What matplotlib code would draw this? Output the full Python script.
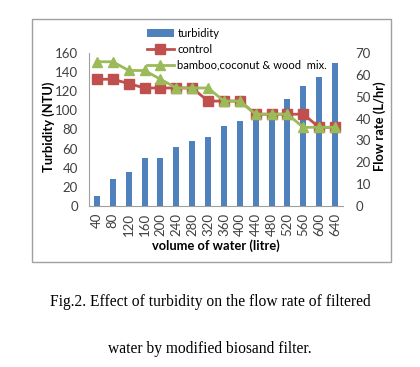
import matplotlib.pyplot as plt
import numpy as np
from matplotlib.patches import Rectangle

volume = ['40', '80', '120', '160', '200', '240', '280', '320',
          '360', '400', '440', '480', '520', '560', '600', '640']
turbidity = [10, 28, 36, 50, 50.5, 62, 68, 72, 84, 89, 96, 97, 112, 125, 135, 150]
control = [58, 58, 56, 54, 54, 54, 54, 48, 48, 48, 42, 42, 42, 42, 36, 36]
bamboo = [66, 66, 62, 62, 58, 54, 54, 54, 48, 48, 42, 42, 42, 36, 36, 36]

font = 'Lato'
tick_col = '#404040'

fig = plt.figure(figsize=(4.2, 3.67), dpi=100)
fig.patches.append(Rectangle((32 / 420, 1 - 262 / 367), 359 / 420, 243 / 367,
                             transform=fig.transFigure, fill=False,
                             edgecolor='#a0a0a0', linewidth=1.0))

ax = fig.add_axes([89 / 420, 1 - 206 / 367, 254 / 420, 153 / 367])
x = np.arange(len(volume))
bars = ax.bar(x, turbidity, width=0.38, color='#4f81bd', label='turbidity', zorder=1)
ax.set_ylim(0, 160)
ax.set_yticks(range(0, 161, 20))
ax.set_xlim(-0.5, len(volume) - 0.5)
ax.set_xticks(x)
ax.set_xticklabels(volume, rotation=90)
ax.tick_params(axis='y', length=0, labelsize=9.5, labelcolor=tick_col, pad=8)
ax.tick_params(axis='x', length=0, labelsize=9.5, labelcolor=tick_col, pad=5)
for lbl in ax.get_xticklabels() + ax.get_yticklabels():
    lbl.set_family(font)
ax.set_xlabel('volume of water (litre)', fontsize=9.3, fontweight='bold',
              family=font, labelpad=2.5)
ax.set_ylabel('Turbidity (NTU)', fontsize=9.3, fontweight='bold', family=font)
ax.yaxis.set_label_coords(-0.135, 0.52)
for s in ['top', 'right']:
    ax.spines[s].set_visible(False)
for s in ['left', 'bottom']:
    ax.spines[s].set_color('#a0a0a0')
    ax.spines[s].set_linewidth(0.8)

ax2 = ax.twinx()
l1, = ax2.plot(x, control, color='#c0504d', marker='s', markersize=7,
               linewidth=2, label='control')
l2, = ax2.plot(x, bamboo, color='#9bbb59', marker='^', markersize=7,
               linewidth=2, label='bamboo,coconut & wood  mix.')
ax2.set_ylim(0, 70)
ax2.set_yticks(range(0, 71, 10))
ax2.tick_params(length=0, labelsize=9.5, labelcolor=tick_col, pad=9)
for lbl in ax2.get_yticklabels():
    lbl.set_family(font)
ax2.set_ylabel('Flow rate (L/hr)', fontsize=9.3, fontweight='bold', family=font)
ax2.yaxis.set_label_coords(1.118, 0.52)
for s in ['top', 'left', 'bottom', 'right']:
    ax2.spines[s].set_visible(False)

leg = ax2.legend([bars, l1, l2], ['turbidity', 'control', 'bamboo,coconut & wood  mix.'],
                 loc='upper left', bbox_to_anchor=(0.228, 1.165), frameon=False,
                 prop={'family': font, 'size': 8}, handlelength=2.4,
                 handletextpad=0.35, labelspacing=0.45, borderaxespad=0,
                 borderpad=0)

fig.text(0.5, 1 - 302 / 367, 'Fig.2. Effect of turbidity on the flow rate of filtered',
         ha='center', va='center', family='Liberation Serif', fontsize=11.2)
fig.text(0.5, 1 - 349 / 367, 'water by modified biosand filter.',
         ha='center', va='center', family='Liberation Serif', fontsize=11.2)

fig.savefig('out.png', dpi=100)
